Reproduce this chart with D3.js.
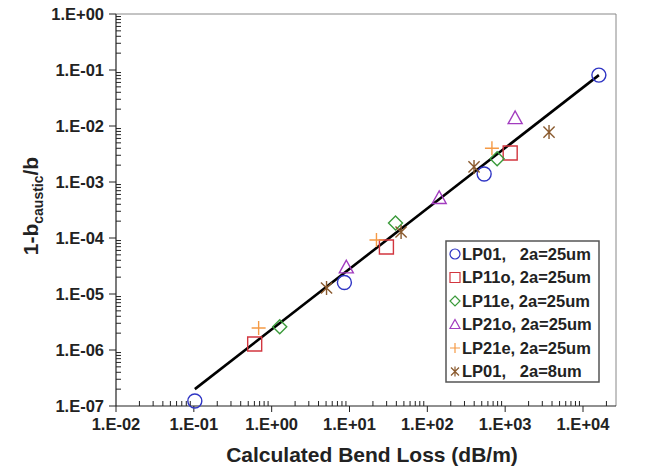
<!DOCTYPE html>
<html>
<head>
<meta charset="utf-8">
<script src="https://cdn.jsdelivr.net/npm/d3@7"></script>
<style>
    body { margin: 0; background: #fff; }
    text { font-family: Arial, 'Liberation Sans', sans-serif; font-weight: bold; fill: #222; }
</style>
</head>
<body>
<svg id="chart" width="660" height="470"></svg>
<script>
// values
const xTickLabels = ['1.E-02', '1.E-01', '1.E+00', '1.E+01', '1.E+02', '1.E+03', '1.E+04']
const yTickLabels = ['1.E-07', '1.E-06', '1.E-05', '1.E-04', '1.E-03', '1.E-02', '1.E-01', '1.E+00']

const seriesNames = [
    'LP01,   2a=25um',
    'LP11o, 2a=25um',
    'LP11e, 2a=25um',
    'LP21o, 2a=25um',
    'LP21e, 2a=25um',
    'LP01,   2a=8um'
]

const lp01wideX = [0.103, 8.6, 537, 16000]
const lp01wideY = [1.23e-7, 1.6e-5, 1.39e-3, 8.1e-2]
const lp11oX = [0.605, 29.8, 1160]
const lp11oY = [1.28e-6, 6.9e-5, 3.3e-3]
const lp11eX = [1.27, 39, 789]
const lp11eY = [2.6e-6, 1.86e-4, 2.6e-3]
const lp21oX = [9.1, 142, 1343]
const lp21oY = [3.0e-5, 5.2e-4, 1.39e-2]
const lp21eX = [0.68, 22.2, 676]
const lp21eY = [2.47e-6, 9.2e-5, 4.0e-3]
const lp01narrowX = [5.07, 46, 398, 3660]
const lp01narrowY = [1.28e-5, 1.28e-4, 1.86e-3, 7.8e-3]

// fitted line end points
const fitX = [0.103, 16000]
const fitY = [2.0e-7, 8.1e-2]

const svg = d3.select('#chart')

const plot = { left: 116, right: 616, top: 14, bottom: 406, decadeRight: 583 }

const x = d3.scaleLog().domain([1e-2, 1e4]).range([plot.left, plot.decadeRight])
const xFull = x.copy().domain([1e-2, x.invert(plot.right)]).range([plot.left, plot.right])
const y = d3.scaleLog().domain([1e-7, 1]).range([plot.bottom, plot.top])

const series = [
    { name: seriesNames[0], xs: lp01wideX, ys: lp01wideY, shape: 'circle', color: '#2f35c4' },
    { name: seriesNames[1], xs: lp11oX, ys: lp11oY, shape: 'square', color: '#d2363f' },
    { name: seriesNames[2], xs: lp11eX, ys: lp11eY, shape: 'diamond', color: '#3a9a3a' },
    { name: seriesNames[3], xs: lp21oX, ys: lp21oY, shape: 'triangle', color: '#a23cbf' },
    { name: seriesNames[4], xs: lp21eX, ys: lp21eY, shape: 'plus', color: '#f59a45' },
    { name: seriesNames[5], xs: lp01narrowX, ys: lp01narrowY, shape: 'star', color: '#8a5a2e' }
]

function markerPath (shape, s) {
    const h = s / 2
    if (shape === 'circle') {
        return `M ${h} 0 A ${h} ${h} 0 1 1 ${-h} 0 A ${h} ${h} 0 1 1 ${h} 0 Z`
    }
    if (shape === 'square') {
        return `M ${-h} ${-h} H ${h} V ${h} H ${-h} Z`
    }
    if (shape === 'diamond') {
        return `M 0 ${-h} L ${h} 0 L 0 ${h} L ${-h} 0 Z`
    }
    if (shape === 'triangle') {
        return `M 0 ${-h} L ${h} ${h * 0.8} L ${-h} ${h * 0.8} Z`
    }
    if (shape === 'plus') {
        return `M ${-h} 0 H ${h} M 0 ${-h} V ${h}`
    }
    // star: an x with a vertical bar
    const d = h * 0.8
    return `M ${-d} ${-d} L ${d} ${d} M ${-d} ${d} L ${d} ${-d} M 0 ${-h} V ${h}`
}

// plot frame (top and right)
svg.append('path')
    .attr('d', `M ${plot.left} ${plot.top} H ${plot.right} V ${plot.bottom}`)
    .attr('fill', 'none')
    .attr('stroke', '#888')
    .attr('stroke-width', 1)

// minor ticks
const minorX = []
const minorY = []
for (let e = -2; e <= 4; e++) {
    for (let k = 2; k <= 9; k++) {
        const v = k * Math.pow(10, e)
        if (v <= xFull.domain()[1]) minorX.push(v)
    }
}
for (let e = -7; e < 0; e++) {
    for (let k = 2; k <= 9; k++) minorY.push(k * Math.pow(10, e))
}

const xAxisG = svg.append('g').attr('transform', `translate(0, ${plot.bottom})`)
xAxisG.append('line')
    .attr('x1', plot.left).attr('x2', plot.right)
    .attr('stroke', '#222').attr('stroke-width', 1.2)
xAxisG.selectAll('.minor').data(minorX).join('line')
    .attr('class', 'minor')
    .attr('x1', d => xFull(d)).attr('x2', d => xFull(d))
    .attr('y1', 0).attr('y2', -5)
    .attr('stroke', '#222')
xAxisG.selectAll('.major').data(xTickLabels).join('line')
    .attr('class', 'major')
    .attr('x1', (d, i) => x(Math.pow(10, i - 2))).attr('x2', (d, i) => x(Math.pow(10, i - 2)))
    .attr('y1', 0).attr('y2', 6)
    .attr('stroke', '#222')
xAxisG.selectAll('text').data(xTickLabels).join('text')
    .attr('x', (d, i) => x(Math.pow(10, i - 2)))
    .attr('y', 24)
    .attr('text-anchor', 'middle')
    .attr('font-size', 16.5)
    .text(d => d)

const yAxisG = svg.append('g').attr('transform', `translate(${plot.left}, 0)`)
yAxisG.append('line')
    .attr('y1', plot.top).attr('y2', plot.bottom)
    .attr('stroke', '#222').attr('stroke-width', 1.2)
yAxisG.selectAll('.minor').data(minorY).join('line')
    .attr('class', 'minor')
    .attr('y1', d => y(d)).attr('y2', d => y(d))
    .attr('x1', 0).attr('x2', 5)
    .attr('stroke', '#222')
yAxisG.selectAll('.major').data(yTickLabels).join('line')
    .attr('class', 'major')
    .attr('y1', (d, i) => y(Math.pow(10, i - 7))).attr('y2', (d, i) => y(Math.pow(10, i - 7)))
    .attr('x1', -7).attr('x2', 0)
    .attr('stroke', '#222')
yAxisG.selectAll('text').data(yTickLabels).join('text')
    .attr('x', -12)
    .attr('y', (d, i) => y(Math.pow(10, i - 7)))
    .attr('dy', '0.36em')
    .attr('text-anchor', 'end')
    .attr('font-size', 16.5)
    .text(d => d)

// axis titles
svg.append('text')
    .attr('x', 372)
    .attr('y', 462)
    .attr('text-anchor', 'middle')
    .attr('font-size', 21)
    .text('Calculated Bend Loss (dB/m)')

const yTitle = svg.append('text')
    .attr('transform', 'translate(38, 206) rotate(-90)')
    .attr('text-anchor', 'middle')
    .attr('font-size', 21)
yTitle.append('tspan').text('1-b')
yTitle.append('tspan').attr('font-size', 14).attr('dy', 5).text('caustic')
yTitle.append('tspan').attr('dy', -5).text('/b')

// fitted line
svg.append('path')
    .datum(d3.zip(fitX, fitY))
    .attr('d', d3.line().x(d => x(d[0])).y(d => y(d[1])))
    .attr('stroke', '#000')
    .attr('stroke-width', 2.6)
    .attr('fill', 'none')

// data markers
series.forEach(s => {
    svg.append('g').selectAll('path')
        .data(d3.zip(s.xs, s.ys))
        .join('path')
        .attr('transform', d => `translate(${x(d[0])}, ${y(d[1])})`)
        .attr('d', markerPath(s.shape, 14))
        .attr('fill', 'none')
        .attr('stroke', s.color)
        .attr('stroke-width', 1.4)
})

// legend
const legend = svg.append('g').attr('transform', 'translate(446, 241)')
legend.append('rect')
    .attr('width', 153).attr('height', 141)
    .attr('fill', '#fff')
    .attr('stroke', '#555')
    .attr('stroke-width', 1.5)
const rows = legend.selectAll('g').data(series).join('g')
    .attr('transform', (d, i) => `translate(0, ${13 + i * 23.5})`)
rows.append('path')
    .attr('transform', 'translate(9, 0)')
    .attr('d', d => markerPath(d.shape, 10))
    .attr('fill', 'none')
    .attr('stroke', d => d.color)
    .attr('stroke-width', 1.2)
rows.append('text')
    .attr('x', 16)
    .attr('dy', '0.36em')
    .attr('font-size', 16.5)
    .attr('xml:space', 'preserve')
    .style('white-space', 'pre')
    .text(d => d.name)
</script>
</body>
</html>
